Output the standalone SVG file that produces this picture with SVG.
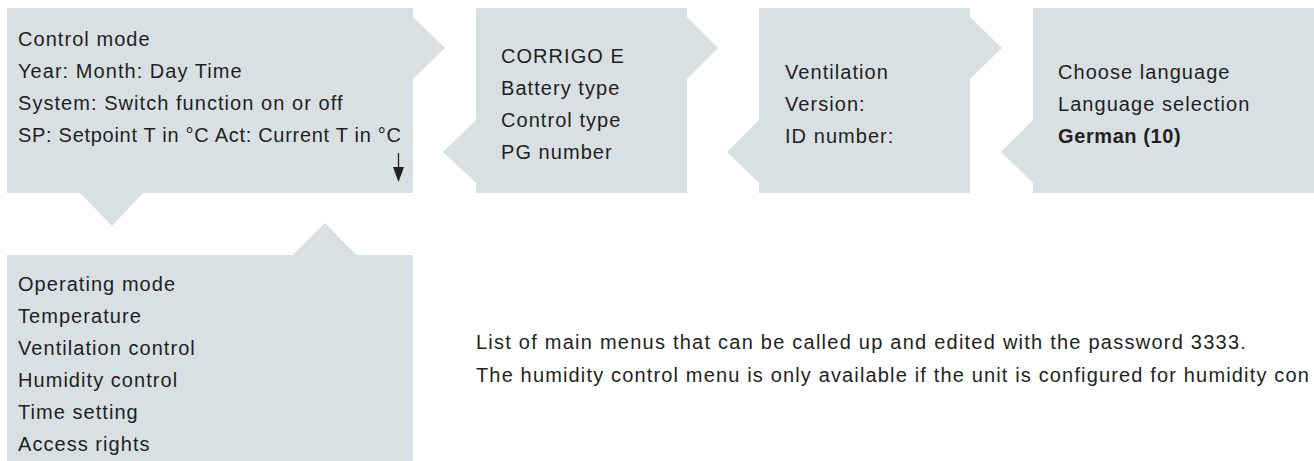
<svg xmlns="http://www.w3.org/2000/svg" width="1314" height="461" viewBox="0 0 1314 461">
<style>
.box{fill:#d9e0e4;stroke:none}
.t{font-family:"Liberation Sans",Arial,sans-serif;font-size:20px;letter-spacing:1.05px;fill:#231f20}
.n{letter-spacing:1.2px}
.b{font-weight:bold;letter-spacing:0.6px}
.arr{stroke:#231f20;stroke-width:1.3;fill:none}
.head{fill:#231f20}
</style>
<rect width="1314" height="461" fill="#ffffff"/>
<g id="node-main">
<polygon class="box" points="7,8 413,8 413,17 445,48 413,79 413,193 143,193 112,226 80,193 7,193"/>
<text class="t" x="18" y="46">Control mode</text>
<text class="t" x="18" y="78">Year: Month: Day Time</text>
<text class="t" x="18" y="110">System: Switch function on or off</text>
<text class="t" x="18" y="142" textLength="384" lengthAdjust="spacing">SP: Setpoint T in °C Act: Current T in °C</text>
</g>
<g id="node-corrigo">
<polygon class="box" points="476,8 687,8 687,17 718,48 687,79 687,193 476,193 476,183 443,152 476,120"/>
<text class="t" x="501" y="63">CORRIGO E</text>
<text class="t" x="501" y="95">Battery type</text>
<text class="t" x="501" y="127">Control type</text>
<text class="t" x="501" y="159">PG number</text>
</g>
<g id="node-ventilation">
<polygon class="box" points="759,8 970,8 970,17 1002,48 970,79 970,193 759,193 759,183 727,152 759,120"/>
<text class="t" x="785" y="79">Ventilation</text>
<text class="t" x="785" y="111">Version:</text>
<text class="t" x="785" y="143">ID number:</text>
</g>
<g id="node-language">
<polygon class="box" points="1033,8 1314,8 1314,193 1033,193 1033,183 1001,152 1033,120"/>
<text class="t" x="1058" y="79">Choose language</text>
<text class="t" x="1058" y="111">Language selection</text>
<text class="t b" x="1058" y="143">German (10)</text>
</g>
<g id="node-menus">
<polygon class="box" points="7,255 293,255 325,223 356,255 413,255 413,461 7,461"/>
<text class="t" x="18" y="291">Operating mode</text>
<text class="t" x="18" y="323">Temperature</text>
<text class="t" x="18" y="355">Ventilation control</text>
<text class="t" x="18" y="387">Humidity control</text>
<text class="t" x="18" y="419">Time setting</text>
<text class="t" x="18" y="451">Access rights</text>
</g>
<g id="connectors">
<line class="arr" x1="398.5" y1="153" x2="398.5" y2="170"/>
<polygon class="head" points="393,167 404,167 398.5,182"/>
</g>
<g id="note">
<text class="t n" x="476" y="349" textLength="771" lengthAdjust="spacing">List of main menus that can be called up and edited with the password 3333.</text>
<text class="t n" x="476" y="382" textLength="834" lengthAdjust="spacing">The humidity control menu is only available if the unit is configured for humidity con</text>
</g>
</svg>
